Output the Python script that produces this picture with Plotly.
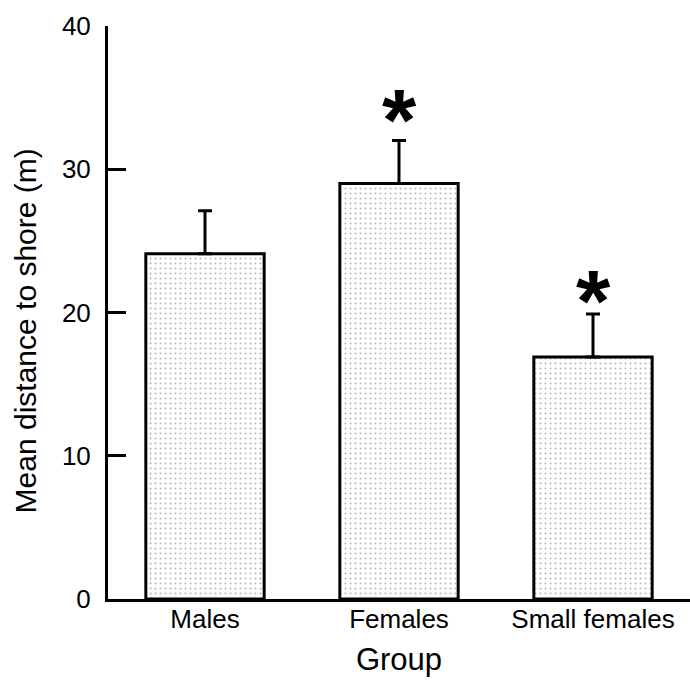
import plotly.graph_objects as go

groups = ["Males", "Females", "Small females"]
means = [24.1, 29.0, 16.9]
errors_up = [3.0, 3.0, 3.0]
significant = [False, True, True]
y_ticks = [0, 10, 20, 30, 40]

FONT = "Liberation Sans, Arial, Helvetica, sans-serif"
star_shift = {"Females": -30, "Small females": -38}

fig = go.Figure()
fig.add_trace(go.Bar(
    x=groups, y=means, width=0.61,
    marker=dict(
        color="white",
        line=dict(color="black", width=3),
        pattern=dict(shape=".", fgcolor="#6f6f6f", bgcolor="white", size=5, solidity=0.13),
    ),
    error_y=dict(type="data", array=errors_up, arrayminus=[0, 0, 0], symmetric=False,
                 color="black", thickness=3, width=7),
    showlegend=False,
))

for g, m, e, s in zip(groups, means, errors_up, significant):
    if s:
        fig.add_annotation(x=g, y=m + e, text="<b>*</b>", showarrow=False,
                           yanchor="bottom", yshift=star_shift[g],
                           font=dict(family=FONT, size=88, color="black"))

# y-axis title as an annotation so it can sit slightly below the axis centre
fig.add_annotation(xref="paper", yref="paper", x=0, y=0.467, xanchor="center", yanchor="middle",
                   xshift=-83, textangle=-90, showarrow=False,
                   text="Mean distance to shore (m)", font=dict(family=FONT, size=30, color="black"))

fig.update_layout(
    width=690, height=692,
    margin=dict(l=108, r=0, t=26, b=93),
    paper_bgcolor="white", plot_bgcolor="white",
    font=dict(family=FONT, color="black"),
)
fig.update_xaxes(
    range=[-0.5, 2.5], showline=True, linecolor="black", linewidth=3,
    ticks="", showgrid=False, zeroline=False,
    tickfont=dict(size=26), ticklabelstandoff=-5,
    title=dict(text="Group", font=dict(size=31), standoff=16),
)
fig.update_yaxes(
    range=[0, 40], tickvals=y_ticks, showline=True, linecolor="black", linewidth=3,
    ticks="inside", ticklen=18, tickwidth=3, tickcolor="black",
    showgrid=False, zeroline=False,
    tickfont=dict(size=26), ticklabelstandoff=9,
)

fig.write_html("out.html", config={"displayModeBar": False},
               post_script="document.body.style.margin='0px';")
